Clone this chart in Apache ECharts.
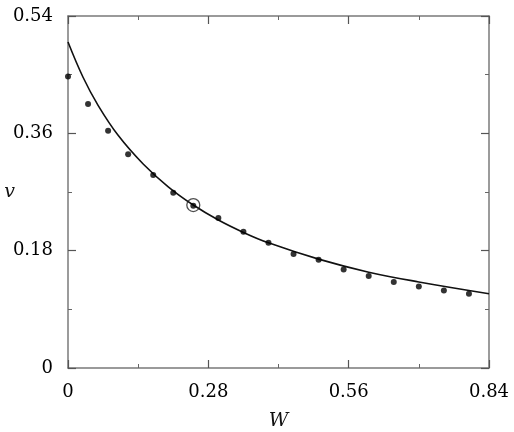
<!DOCTYPE html>
<html>
<head>
<meta charset="utf-8">
<script src="https://cdn.jsdelivr.net/npm/echarts@6/dist/echarts.min.js"></script>
<style>
  html, body { margin: 0; padding: 0; background: #fff; }
  #chart { width: 514px; height: 432px; }
</style>
</head>
<body>
<div id="chart"></div>
<script>
// measured points
const dotW = [0, 0.04, 0.08, 0.12, 0.17, 0.21, 0.25, 0.30, 0.35, 0.40, 0.45, 0.50, 0.55, 0.60, 0.65, 0.70, 0.75, 0.80];
const dotV = [0.447, 0.405, 0.364, 0.328, 0.296, 0.269, 0.249, 0.230, 0.209, 0.192, 0.175, 0.166, 0.151, 0.141, 0.132, 0.125, 0.119, 0.114];

// fitted curve
const curveW = [0, 0.03, 0.06, 0.10, 0.15, 0.20, 0.25, 0.30, 0.35, 0.40, 0.50, 0.60, 0.70, 0.84];
const curveV = [0.500, 0.446, 0.403, 0.357, 0.313, 0.278, 0.250, 0.227, 0.208, 0.192, 0.167, 0.147, 0.132, 0.114];

// highlighted point
const markW = [0.25];
const markV = [0.250];

const xTicks = [0, 0.28, 0.56, 0.84];
const yTicks = [0, 0.18, 0.36, 0.54];

const chart = echarts.init(document.getElementById('chart'));

const axisColor = '#7a7a7a';
const labelFont = {
  color: '#000',
  fontFamily: 'DejaVu Serif',
  fontSize: 18
};

const baseAxis = {
  type: 'value',
  axisLine: { show: true, onZero: false, lineStyle: { color: axisColor, width: 1.5 } },
  axisTick: { show: true, inside: true, length: 8, lineStyle: { color: '#555', width: 1.2 } },
  minorTick: { show: true, splitNumber: 2, length: 4, lineStyle: { color: '#666', width: 1 } },
  splitLine: { show: false }
};

const option = {
  animation: false,
  backgroundColor: '#fff',
  grid: { left: 68, right: 25, top: 16, bottom: 64, outerBoundsMode: 'none' },
  xAxis: [
    Object.assign({}, baseAxis, {
      min: 0, max: 0.84, interval: 0.28,
      position: 'bottom',
      name: 'W',
      nameLocation: 'middle',
      nameMoveOverlap: false,
      nameGap: 44,
      nameTextStyle: { color: '#111', fontFamily: 'DejaVu Serif', fontStyle: 'italic', fontSize: 19 },
      axisLabel: Object.assign({}, labelFont, {
        margin: 15,
        formatter: v => xTicks.includes(+v.toFixed(2)) ? String(+v.toFixed(2)) : ''
      })
    }),
    Object.assign({}, baseAxis, {
      min: 0, max: 0.84, interval: 0.28,
      position: 'top',
      axisLabel: { show: false }
    })
  ],
  yAxis: [
    Object.assign({}, baseAxis, {
      min: 0, max: 0.54, interval: 0.18,
      position: 'left',
      name: 'v',
      nameLocation: 'middle',
      nameMoveOverlap: false,
      nameRotate: 0,
      nameGap: 53,
      nameTextStyle: { color: '#111', fontFamily: 'DejaVu Serif', fontStyle: 'italic', fontSize: 19, padding: [0, 0, 6, 0] },
      axisLabel: Object.assign({}, labelFont, {
        margin: 15,
        padding: [4, 0, 0, 0],
        formatter: v => yTicks.includes(+v.toFixed(2)) ? String(+v.toFixed(2)) : ''
      })
    }),
    Object.assign({}, baseAxis, {
      min: 0, max: 0.54, interval: 0.18,
      position: 'right',
      axisLabel: { show: false }
    })
  ],
  series: [
    {
      type: 'line',
      data: curveW.map((w, i) => [w, curveV[i]]),
      smooth: 0.4,
      showSymbol: false,
      lineStyle: { color: '#111', width: 1.6 },
      z: 2
    },
    {
      type: 'scatter',
      data: dotW.map((w, i) => [w, dotV[i]]),
      symbol: 'circle',
      symbolSize: 6,
      itemStyle: { color: '#000' },
      z: 3
    },
    {
      type: 'scatter',
      data: markW.map((w, i) => [w, markV[i]]),
      symbol: 'circle',
      symbolSize: 13,
      itemStyle: { color: 'transparent', borderColor: '#222', borderWidth: 1.3 },
      z: 4
    }
  ]
};

chart.setOption(option);
</script>
</body>
</html>
